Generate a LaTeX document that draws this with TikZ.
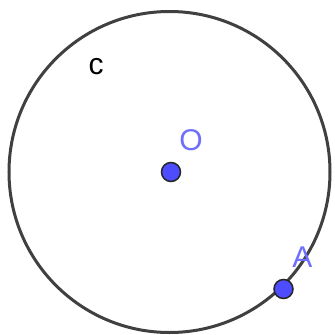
\documentclass[tikz,border=0pt]{standalone}
\usepackage{fontspec}
\setmainfont{Liberation Sans}
\definecolor{ptblue}{RGB}{77,77,255}
\definecolor{lblblue}{RGB}{110,110,255}
\definecolor{circgray}{RGB}{64,64,64}
\begin{document}
\begin{tikzpicture}[x=1pt,y=-1pt,
  ptdot/.style={circle,fill=ptblue,draw=black!85,line width=1.5pt,minimum size=19pt,inner sep=0pt},
  ptlbl/.style={text=lblblue,font=\fontsize{30}{30}\selectfont},
  circlbl/.style={text=black,font=\fontsize{30}{30}\selectfont}]
\useasboundingbox (0,0) rectangle (335,335);
\coordinate (c0) at (169.5,172);
\draw[circgray,line width=3pt] (c0) circle[radius=160.5];
\node[ptdot] (O) at (171,172) {};
\node[ptdot] (A) at (283.5,289) {};
\node[ptlbl] (Olbl) at (191,140) {O};
\node[ptlbl] (Albl) at (302.5,257) {A};
\node[circlbl] (clbl) at (96,66.5) {c};
\end{tikzpicture}
\end{document}
